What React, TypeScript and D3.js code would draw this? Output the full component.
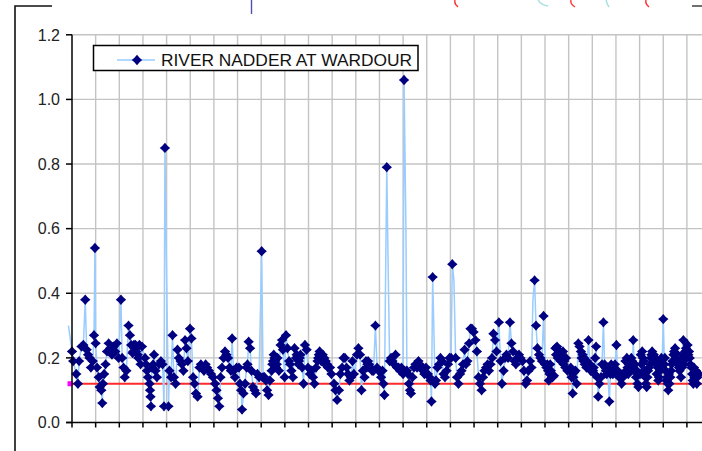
import React from 'react';
import * as d3 from 'd3';

// Phosphate readings, River Nadder at Wardour. Time is in years from the start of record.
const seriesName = 'RIVER NADDER AT WARDOUR';
const guideValue = 0.12;
const yTicks = [0, 0.2, 0.4, 0.6, 0.8, 1.0, 1.2];
const yTickLabels = ['0.0', '0.2', '0.4', '0.6', '0.8', '1.0', '1.2'];
const yearCount = 27;

const samplesEarly: [number, number][] = [
  [0.00, 0.22], [0.05, 0.19], [0.18, 0.15], [0.25, 0.12], [0.30, 0.19], [0.40, 0.235], [0.48, 0.24], [0.56, 0.38], [0.62, 0.225], [0.68, 0.21], [0.74, 0.20], [0.80, 0.17], [0.88, 0.19], [0.93, 0.27], [0.97, 0.54],
  [1.00, 0.245], [1.06, 0.17], [1.13, 0.14], [1.17, 0.11], [1.24, 0.10], [1.28, 0.06], [1.31, 0.12], [1.36, 0.15], [1.42, 0.18], [1.48, 0.22], [1.55, 0.245], [1.62, 0.23], [1.69, 0.21], [1.76, 0.235], [1.83, 0.22], [1.90, 0.245], [1.97, 0.20],
  [2.07, 0.38], [2.12, 0.20], [2.18, 0.17], [2.23, 0.14], [2.30, 0.16], [2.39, 0.30], [2.45, 0.27], [2.50, 0.24], [2.56, 0.215], [2.59, 0.22], [2.62, 0.24], [2.65, 0.23], [2.68, 0.24], [2.71, 0.22], [2.75, 0.235], [2.78, 0.21], [2.80, 0.20], [2.85, 0.24], [2.90, 0.18], [2.96, 0.235],
  [3.09, 0.20], [3.13, 0.18], [3.17, 0.16], [3.21, 0.14], [3.28, 0.12], [3.30, 0.10], [3.32, 0.08], [3.34, 0.05], [3.38, 0.17], [3.43, 0.18], [3.47, 0.21], [3.53, 0.16], [3.59, 0.14], [3.68, 0.18], [3.76, 0.19], [3.83, 0.18], [3.89, 0.05], [3.93, 0.85], [4.08, 0.05],
  [4.12, 0.16], [4.19, 0.14], [4.25, 0.27], [4.31, 0.14], [4.38, 0.12], [4.46, 0.225], [4.52, 0.20], [4.59, 0.19], [4.65, 0.18], [4.71, 0.16], [4.78, 0.255], [4.84, 0.23], [4.90, 0.19], [4.99, 0.29],
  [5.05, 0.26], [5.12, 0.14], [5.18, 0.12], [5.24, 0.09], [5.31, 0.08], [5.39, 0.17], [5.45, 0.18], [5.52, 0.17], [5.58, 0.16], [5.65, 0.18], [5.71, 0.17], [5.79, 0.16], [5.88, 0.15], [5.96, 0.14],
  [6.05, 0.12], [6.11, 0.10], [6.17, 0.075], [6.23, 0.05], [6.28, 0.14], [6.34, 0.17], [6.41, 0.20], [6.47, 0.22], [6.53, 0.21], [6.60, 0.20], [6.66, 0.17], [6.72, 0.16], [6.77, 0.26], [6.83, 0.16], [6.89, 0.14], [6.96, 0.17],
  [7.06, 0.17], [7.10, 0.12], [7.15, 0.10], [7.19, 0.04], [7.25, 0.09], [7.32, 0.12], [7.38, 0.17], [7.42, 0.18], [7.47, 0.25], [7.53, 0.23], [7.59, 0.16], [7.65, 0.11], [7.72, 0.10], [7.78, 0.09], [7.84, 0.15], [7.91, 0.14], [8.02, 0.53],
  [8.08, 0.14], [8.14, 0.14], [8.20, 0.13], [8.25, 0.10], [8.31, 0.085], [8.37, 0.13], [8.44, 0.16], [8.47, 0.18], [8.50, 0.19], [8.53, 0.21], [8.56, 0.20], [8.59, 0.19], [8.63, 0.17], [8.66, 0.18], [8.69, 0.20], [8.75, 0.16], [8.82, 0.24], [8.88, 0.255], [8.92, 0.225], [8.99, 0.14],
];

const samplesMiddle: [number, number][] = [
  [9.05, 0.27], [9.11, 0.23], [9.18, 0.19], [9.22, 0.18], [9.28, 0.16], [9.34, 0.14], [9.41, 0.23], [9.47, 0.20], [9.50, 0.21], [9.54, 0.20], [9.57, 0.18], [9.60, 0.19], [9.63, 0.20], [9.66, 0.21], [9.73, 0.17], [9.79, 0.12], [9.85, 0.24], [9.92, 0.225], [9.98, 0.17],
  [10.06, 0.15], [10.13, 0.16], [10.19, 0.14], [10.25, 0.12], [10.32, 0.17], [10.38, 0.19], [10.41, 0.20], [10.44, 0.21], [10.47, 0.22], [10.51, 0.20], [10.54, 0.19], [10.57, 0.20], [10.60, 0.21], [10.63, 0.19], [10.67, 0.20], [10.70, 0.18], [10.73, 0.19], [10.76, 0.18], [10.79, 0.18], [10.82, 0.17], [10.91, 0.17], [10.97, 0.15],
  [11.08, 0.12], [11.14, 0.10], [11.21, 0.07], [11.29, 0.10], [11.35, 0.15], [11.42, 0.17], [11.48, 0.20], [11.54, 0.20], [11.61, 0.17], [11.67, 0.15], [11.73, 0.13], [11.80, 0.14], [11.86, 0.19], [11.92, 0.15],
  [12.05, 0.21], [12.11, 0.23], [12.18, 0.21], [12.24, 0.10], [12.30, 0.16], [12.37, 0.14], [12.43, 0.19], [12.46, 0.17], [12.49, 0.18], [12.52, 0.19], [12.56, 0.18], [12.62, 0.17], [12.69, 0.16], [12.75, 0.16], [12.83, 0.30], [12.90, 0.17], [12.96, 0.16],
  [13.07, 0.14], [13.13, 0.16], [13.17, 0.12], [13.21, 0.085], [13.31, 0.79], [13.43, 0.19], [13.49, 0.20], [13.55, 0.19], [13.62, 0.18], [13.68, 0.21], [13.74, 0.17], [13.81, 0.17], [13.87, 0.16], [13.93, 0.17], [14.00, 0.15], [14.04, 1.06],
  [14.16, 0.16], [14.21, 0.15], [14.25, 0.12], [14.29, 0.10], [14.33, 0.09], [14.40, 0.14], [14.46, 0.17], [14.52, 0.18], [14.59, 0.17], [14.65, 0.19], [14.71, 0.18], [14.78, 0.17], [14.84, 0.16], [14.90, 0.15], [14.97, 0.17],
  [15.05, 0.15], [15.12, 0.14], [15.16, 0.13], [15.20, 0.065], [15.25, 0.45], [15.35, 0.12], [15.39, 0.13], [15.45, 0.17], [15.52, 0.18], [15.58, 0.20], [15.65, 0.19], [15.71, 0.15], [15.77, 0.14], [15.84, 0.16], [15.90, 0.18], [15.96, 0.20],
  [16.03, 0.20], [16.08, 0.49], [16.22, 0.20], [16.28, 0.14], [16.34, 0.12], [16.41, 0.15], [16.47, 0.16], [16.53, 0.18], [16.60, 0.225], [16.66, 0.18], [16.72, 0.19], [16.79, 0.245], [16.85, 0.29], [16.91, 0.29], [16.98, 0.28],
  [17.06, 0.255], [17.12, 0.22], [17.19, 0.14], [17.25, 0.12], [17.32, 0.10], [17.38, 0.14], [17.44, 0.16], [17.51, 0.17], [17.57, 0.18], [17.63, 0.16], [17.70, 0.18], [17.76, 0.20], [17.82, 0.275], [17.89, 0.255], [17.95, 0.22],
];

const samplesLate: [number, number][] = [
  [18.05, 0.31], [18.12, 0.19], [18.18, 0.12], [18.25, 0.16], [18.31, 0.20], [18.37, 0.21], [18.44, 0.20], [18.52, 0.31], [18.58, 0.245], [18.65, 0.22], [18.71, 0.19], [18.77, 0.18], [18.84, 0.20], [18.90, 0.21], [18.96, 0.20],
  [19.05, 0.19], [19.11, 0.16], [19.18, 0.12], [19.24, 0.13], [19.30, 0.16], [19.37, 0.19], [19.43, 0.17], [19.56, 0.44], [19.62, 0.30], [19.68, 0.23], [19.75, 0.21], [19.81, 0.20], [19.87, 0.19], [19.94, 0.33], [20.00, 0.18],
  [20.06, 0.17], [20.10, 0.18], [20.13, 0.16], [20.16, 0.13], [20.19, 0.15], [20.22, 0.18], [20.25, 0.16], [20.29, 0.15], [20.32, 0.14], [20.38, 0.145], [20.44, 0.23], [20.47, 0.21], [20.51, 0.235], [20.54, 0.20], [20.57, 0.225], [20.63, 0.21], [20.66, 0.19], [20.70, 0.20], [20.76, 0.22], [20.79, 0.18], [20.82, 0.19], [20.86, 0.17], [20.89, 0.20], [20.95, 0.16],
  [21.06, 0.16], [21.09, 0.17], [21.12, 0.14], [21.17, 0.09], [21.20, 0.14], [21.23, 0.155], [21.29, 0.16], [21.34, 0.12], [21.41, 0.245], [21.46, 0.235], [21.52, 0.22], [21.55, 0.20], [21.59, 0.21], [21.62, 0.19], [21.65, 0.20], [21.68, 0.18], [21.71, 0.19], [21.75, 0.17], [21.78, 0.19], [21.84, 0.255], [21.90, 0.18], [21.93, 0.16], [21.97, 0.17],
  [22.03, 0.16], [22.06, 0.17], [22.09, 0.15], [22.12, 0.20], [22.16, 0.235], [22.21, 0.14], [22.25, 0.08], [22.30, 0.12], [22.37, 0.14], [22.41, 0.18], [22.47, 0.31], [22.52, 0.18], [22.55, 0.17], [22.58, 0.16], [22.61, 0.15], [22.64, 0.17], [22.72, 0.065], [22.77, 0.15], [22.80, 0.18], [22.83, 0.16], [22.87, 0.15], [22.90, 0.17], [22.93, 0.16], [22.96, 0.18],
  [23.02, 0.24], [23.07, 0.16], [23.13, 0.14], [23.19, 0.15], [23.24, 0.12], [23.30, 0.14], [23.36, 0.15], [23.40, 0.19], [23.43, 0.16], [23.46, 0.20], [23.49, 0.17], [23.52, 0.15], [23.55, 0.17], [23.59, 0.16], [23.62, 0.18], [23.65, 0.20], [23.68, 0.19], [23.70, 0.17], [23.73, 0.255], [23.78, 0.16], [23.81, 0.18], [23.85, 0.14], [23.88, 0.16], [23.91, 0.12], [23.95, 0.11],
  [24.02, 0.15], [24.05, 0.21], [24.08, 0.18], [24.11, 0.22], [24.14, 0.20], [24.18, 0.19], [24.21, 0.16], [24.24, 0.14], [24.27, 0.12], [24.30, 0.11], [24.33, 0.14], [24.36, 0.16], [24.40, 0.17], [24.44, 0.18], [24.47, 0.20], [24.50, 0.21], [24.53, 0.22], [24.57, 0.20], [24.60, 0.21], [24.63, 0.19], [24.66, 0.20], [24.69, 0.18], [24.72, 0.15], [24.76, 0.17], [24.79, 0.13], [24.82, 0.14], [24.85, 0.19], [24.88, 0.16], [24.92, 0.20], [24.95, 0.18], [25.00, 0.32],
  [25.05, 0.18], [25.07, 0.20], [25.10, 0.16], [25.13, 0.13], [25.16, 0.14], [25.19, 0.12], [25.21, 0.10], [25.24, 0.15], [25.26, 0.12], [25.30, 0.14], [25.33, 0.16], [25.36, 0.18], [25.39, 0.19], [25.43, 0.21], [25.46, 0.22], [25.50, 0.23], [25.53, 0.215], [25.56, 0.20], [25.59, 0.19], [25.62, 0.18], [25.66, 0.17], [25.69, 0.16], [25.72, 0.19], [25.75, 0.14], [25.79, 0.17], [25.82, 0.21], [25.85, 0.255], [25.88, 0.18], [25.90, 0.20], [25.93, 0.22], [25.96, 0.23], [25.99, 0.20],
  [26.03, 0.24], [26.06, 0.21], [26.09, 0.22], [26.12, 0.20], [26.15, 0.18], [26.19, 0.17], [26.22, 0.15], [26.25, 0.13], [26.27, 0.12], [26.30, 0.17], [26.32, 0.14], [26.35, 0.15], [26.38, 0.16], [26.42, 0.12], [26.45, 0.14], [26.51, 0.15],
];

// Readings that are part of the trace but carry no marker.
const unmarkedReadings: [number, number][] = [
  [-0.15, 0.30], [0.95, 0.39], [2.03, 0.30], [4.00, 0.45], [13.26, 0.45], [13.37, 0.47],
  [14.12, 0.60], [15.31, 0.26], [16.15, 0.44], [19.49, 0.38],
];

const W = 702;
const H = 451;
const plotLeft = 72;
const yearWidth = 23.65;
const plotTop = 34.8;
const plotBottom = 422.5;

const x = d3.scaleLinear().domain([0, yearCount]).range([plotLeft, plotLeft + yearCount * yearWidth]);
const y = d3.scaleLinear().domain([0, 1.2]).range([plotBottom, plotTop]);

const marked = [...samplesEarly, ...samplesMiddle, ...samplesLate];
const trace = [...marked, ...unmarkedReadings].sort((a, b) => a[0] - b[0]);

const tracePath = d3
  .line<[number, number]>()
  .x((d) => x(d[0]))
  .y((d) => y(d[1]))(trace) as string;

const star = 'M0,-5.2 Q2.2,-2.2 5.2,0 Q2.2,2.2 0,5.2 Q-2.2,2.2 -5.2,0 Q-2.2,-2.2 0,-5.2Z';
const navy = '#000080';
const traceBlue = '#99ccff';
const gridGrey = '#c4c4c4';
const font = '"Liberation Sans", Arial, sans-serif';

const years = d3.range(0, yearCount);

export default function App() {
  const right = W;
  return (
    <svg
      width={W}
      height={H}
      viewBox={`0 0 ${W} ${H}`}
      style={{ position: 'absolute', left: 0, top: 0, background: '#fff' }}
    >
      <rect x={0} y={0} width={W} height={H} fill="#fff" />

      {/* fragments of the neighbouring chart above */}
      <g fill="none" strokeWidth={1.4}>
        <line x1={251.5} y1={0} x2={251.5} y2={14} stroke="#5050b0" />
        <path d="M455,0 Q454,4 458,7" stroke="#ff3030" />
        <path d="M571,0 Q570,4 575,7" stroke="#ff3030" />
        <path d="M646,0 Q645,4 649,7" stroke="#ff3030" />
        <path d="M538,0 Q541,5 548,6" stroke="#a0e0e0" />
        <path d="M606,0 Q607,4 609,7" stroke="#a0e0e0" />
        <line x1={692} y1={6} x2={702} y2={6} stroke="#333" />
      </g>

      {/* outer frame */}
      <path d="M15,451 L15,6 L52,6" fill="none" stroke="#111" strokeWidth={1.6} />

      {/* gridlines */}
      <g stroke={gridGrey} strokeWidth={1.4}>
        {yTicks.slice(1).map((v) => (
          <line key={`h${v}`} x1={plotLeft} x2={right} y1={y(v)} y2={y(v)} />
        ))}
        {years.slice(1).map((t) => (
          <line key={`v${t}`} x1={x(t)} x2={x(t)} y1={y(1.2)} y2={y(0)} />
        ))}
      </g>

      {/* guide level */}
      <line x1={x(0)} x2={right} y1={y(guideValue)} y2={y(guideValue)} stroke="#ff2a2a" strokeWidth={2} />
      <rect x={x(0) - 4.5} y={y(guideValue) - 2.5} width={5} height={5} fill="#ff00ff" />

      {/* series */}
      <path d={tracePath} fill="none" stroke={traceBlue} strokeWidth={1.5} strokeLinejoin="round" />
      <g fill={navy}>
        {marked.map((d, i) => (
          <path key={i} d={star} transform={`translate(${x(d[0])},${y(d[1])})`} />
        ))}
      </g>

      {/* axes */}
      <g stroke="#000" strokeWidth={1.5}>
        <line x1={plotLeft} x2={plotLeft} y1={y(1.2)} y2={y(0)} />
        <line x1={plotLeft - 6} x2={right} y1={y(0)} y2={y(0)} />
        {yTicks.map((v) => (
          <line key={`yt${v}`} x1={plotLeft - 6} x2={plotLeft} y1={y(v)} y2={y(v)} />
        ))}
        {years.map((t) => (
          <line key={`xt${t}`} x1={x(t)} x2={x(t)} y1={y(0)} y2={y(0) + 5} />
        ))}
      </g>
      <g fontFamily={font} fontSize={16} fill="#222" textAnchor="end">
        {yTicks.map((v, i) => (
          <text key={`yl${v}`} x={plotLeft - 12} y={y(v) + 5.8}>
            {yTickLabels[i]}
          </text>
        ))}
      </g>

      {/* legend */}
      <g>
        <rect x={93.5} y={45.5} width={324.5} height={25} fill="#fff" stroke="#000" strokeWidth={1.5} />
        <line x1={117} x2={155} y1={60} y2={60} stroke={traceBlue} strokeWidth={1.5} />
        <path d={star} transform="translate(137,60)" fill={navy} />
        <text x={161} y={65.5} fontFamily={font} fontSize={16} fill="#111" textLength={251} lengthAdjust="spacingAndGlyphs">
          {seriesName}
        </text>
      </g>
    </svg>
  );
}
